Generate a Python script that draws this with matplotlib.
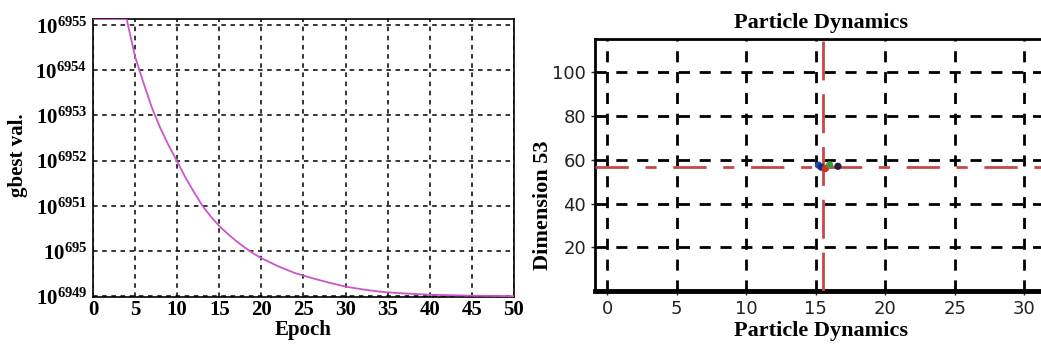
import matplotlib
matplotlib.use("Agg")
import matplotlib.pyplot as plt

# ---------- data ----------
epochs = [0, 1, 2, 3, 4, 5, 6, 7, 8, 9, 10, 11, 12, 13, 14, 15, 16, 17, 18, 19, 20,
          22, 24, 26, 28, 30, 32, 34, 36, 38, 40, 45, 50]
# gbest value is ~10**exponent; keep the exponent (real values overflow floats)
gbest_exp = [6955.13, 6955.13, 6955.13, 6955.13, 6955.13, 6954.30, 6953.72, 6953.17,
             6952.72, 6952.33, 6951.98, 6951.62, 6951.30, 6951.00, 6950.76, 6950.55,
             6950.38, 6950.22, 6950.08, 6949.95, 6949.84, 6949.66, 6949.51, 6949.40,
             6949.30, 6949.21, 6949.15, 6949.10, 6949.07, 6949.05, 6949.03, 6949.01,
             6949.00]
y_exp_ticks = [6949, 6950, 6951, 6952, 6953, 6954, 6955]
y_exp_labels = ["6949", "695", "6951", "6952", "6953", "6954", "6955"]  # as printed
epoch_ticks = [0, 5, 10, 15, 20, 25, 30, 35, 40, 45, 50]

particle_x = [15.2, 15.4, 15.7, 16.0, 16.6]
particle_y = [57.5, 56.6, 56.0, 57.6, 57.0]
particle_c = ["#1f4fa0", "#1a2a80", "#d03020", "#3a9a30", "#202040"]
gbest_pos = (15.5, 56.8)
dyn_xticks = [0, 5, 10, 15, 20, 25, 30]
dyn_yticks = [20, 40, 60, 80, 100]

plt.rcParams["mathtext.fontset"] = "custom"
plt.rcParams["mathtext.rm"] = "Liberation Serif:bold"
plt.rcParams["mathtext.bf"] = "Liberation Serif:bold"
serif = "Liberation Serif"

fig = plt.figure(figsize=(10.41, 3.47), dpi=100)

# ---------- left: gbest convergence ----------
ax1 = fig.add_axes([0.0893, 0.144, 0.4044, 0.801])
ax1.plot(epochs, gbest_exp, color="#cc55cc", lw=1.3, zorder=3)
ax1.set_xlim(0, 50)
ax1.set_ylim(6948.98, 6955.13)
ax1.set_xticks(epoch_ticks)
ax1.set_xticklabels([str(t) for t in epoch_ticks], fontfamily=serif,
                    fontweight="bold", fontsize=15)
ax1.set_yticks(y_exp_ticks)
ax1.set_yticklabels([r"$\mathrm{10^{%s}}$" % s for s in y_exp_labels], fontsize=15)
ax1.tick_params(length=0, pad=4)
ax1.tick_params(axis="x", pad=2)
ax1.grid(True, color="black", ls=(0, (3, 3)), lw=1.1)
for s in ax1.spines.values():
    s.set_linewidth(1.2)
ax1.set_xlabel("Epoch", fontfamily=serif, fontweight="bold", fontsize=15, labelpad=0)
ax1.set_ylabel("gbest val.", fontfamily=serif, fontweight="bold", fontsize=15)
ax1.yaxis.set_label_coords(-0.155, 0.51)

# ---------- right: particle dynamics ----------
ax2 = fig.add_axes([0.5716, 0.161, 0.435, 0.726])
ax2.set_xlim(-0.87, 31.7)
ax2.set_ylim(0, 115)
ax2.set_xticks(dyn_xticks)
ax2.set_yticks(dyn_yticks)
ax2.tick_params(labelsize=13, length=3, width=1, colors="#222222")
ax2.grid(True, color="black", ls=(0, (4, 3.5)), lw=2)
ax2.axhline(gbest_pos[1], color="#c84848", lw=2, ls=(0, (12, 6, 4, 6)), zorder=3)
ax2.axvline(gbest_pos[0], color="#c84848", lw=2, ls=(0, (14, 5)), zorder=3)
ax2.scatter(particle_x, particle_y, c=particle_c, s=18, zorder=4)
ax2.spines["top"].set_linewidth(2)
ax2.spines["left"].set_linewidth(2)
ax2.spines["bottom"].set_linewidth(3.5)
ax2.spines["right"].set_visible(False)
ax2.set_title("Particle Dynamics", fontfamily=serif, fontweight="bold", fontsize=16, pad=8)
ax2.set_xlabel("Particle Dynamics", fontfamily=serif, fontweight="bold", fontsize=16, labelpad=2)
ax2.set_ylabel("Dimension 53", fontfamily=serif, fontweight="bold", fontsize=16)
ax2.yaxis.set_label_coords(-0.092, 0.34)

fig.savefig("out.png", dpi=100)
